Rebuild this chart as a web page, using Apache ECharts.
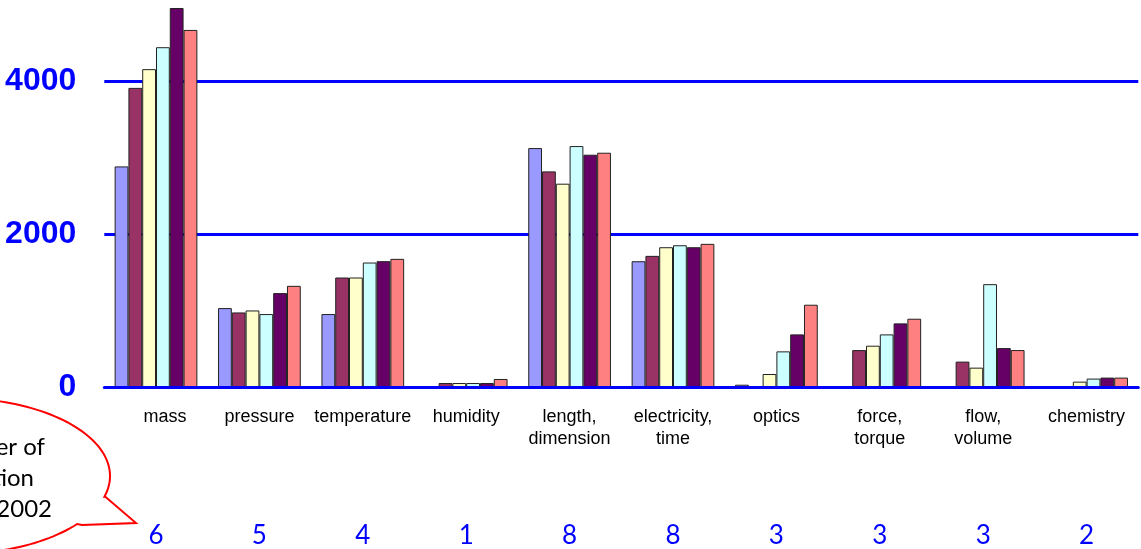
<!DOCTYPE html>
<html>
<head>
<meta charset="utf-8">
<script src="https://cdn.jsdelivr.net/npm/echarts@6/dist/echarts.min.js"></script>
<style>
  html, body { margin: 0; padding: 0; background: #ffffff; }
  #chart { width: 1141px; height: 549px; }
</style>
</head>
<body>
<div id="chart"></div>
<script>
// Measurement fields
const categories = ['mass', 'pressure', 'temperature', 'humidity', 'length,\ndimension',
  'electricity,\ntime', 'optics', 'force,\ntorque', 'flow,\nvolume', 'chemistry'];

// Number of laboratories per field
const labCounts = [6, 5, 4, 1, 8, 8, 3, 3, 3, 2];

// Yearly values per field
const seriesNames = ['1997', '1998', '1999', '2000', '2001', '2002'];
const v1997 = [2885, 1032, 954, 10, 3125, 1645, 30, 0, 0, 0];
const v1998 = [3912, 975, 1432, 52, 2820, 1715, 0, 483, 332, 0];
const v1999 = [4157, 1001, 1432, 52, 2659, 1828, 170, 540, 253, 70];
const v2000 = [4444, 954, 1628, 52, 3151, 1854, 466, 688, 1345, 110];
const v2001 = [4957, 1228, 1646, 52, 3038, 1828, 688, 832, 509, 123];
const v2002 = [4670, 1323, 1676, 105, 3064, 1872, 1076, 893, 483, 123];

const yTicks = [0, 2000, 4000];

const seriesValues = [v1997, v1998, v1999, v2000, v2001, v2002];
const barColors = ['#9999ff', '#993366', '#ffffcc', '#ccffff', '#660066', '#ff8080'];

// Speech bubble outline: an ellipse with a pointer on its lower right side
function bubblePoints() {
  const cx = -45, cy = 476, rx = 155, ry = 78;
  const pts = [[105.6, 497], [136, 523], [82, 525]];
  const t0 = 38 * Math.PI / 180, t1 = 375.5 * Math.PI / 180;
  const steps = 160;
  for (let k = 0; k <= steps; k++) {
    const t = t0 + (t1 - t0) * k / steps;
    pts.push([cx + rx * Math.cos(t), cy + ry * Math.sin(t)]);
  }
  return pts;
}

const bubbleFont = '24px Lato, "Open Sans", sans-serif';

const chart = echarts.init(document.getElementById('chart'), null, { renderer: 'canvas' });

const option = {
  animation: false,
  backgroundColor: '#ffffff',
  grid: {
    left: 104.3,
    right: 2.7,
    top: 4.7,
    bottom: 161.3,
    containLabel: false
  },
  xAxis: [
    {
      type: 'category',
      data: categories,
      z: 10,
      axisLine: { show: true, lineStyle: { color: '#0000ff', width: 3 } },
      axisTick: { show: false },
      axisLabel: {
        interval: 0,
        margin: 19,
        color: '#000000',
        fontFamily: 'Liberation Sans, Arial, sans-serif',
        fontSize: 18,
        lineHeight: 22,
        formatter: function (value) {
          return value === 'mass' ? '{m|' + value + '}' : value;
        },
        rich: {
          m: {
            fontFamily: 'Liberation Sans, Arial, sans-serif',
            fontSize: 18,
            lineHeight: 22,
            color: '#000000',
            padding: [0, 0, 0, 18]
          }
        }
      },
      splitLine: { show: false }
    },
    {
      type: 'category',
      data: categories,
      position: 'bottom',
      axisLine: { show: false },
      axisTick: { show: false },
      axisLabel: {
        interval: 0,
        margin: 136,
        color: '#0000ff',
        fontFamily: 'Lato, "Open Sans", sans-serif',
        fontSize: 26,
        lineHeight: 26,
        formatter: function (value, index) {
          return String(labCounts[index]);
        }
      },
      splitLine: { show: false }
    }
  ],
  yAxis: {
    type: 'value',
    min: 0,
    max: 5000,
    interval: 2000,
    axisLine: { show: false },
    axisTick: { show: false },
    axisLabel: {
      margin: 28,
      showMaxLabel: false,
      color: '#0000ff',
      fontFamily: 'Liberation Sans, Arial, sans-serif',
      fontWeight: 'bold',
      fontSize: 32,
      formatter: function (v) {
        return yTicks.indexOf(v) >= 0 ? String(v) : '';
      }
    },
    splitLine: {
      show: true,
      showMaxLine: false,
      lineStyle: { color: '#0000ff', width: 3 }
    }
  },
  series: seriesNames.map(function (name, i) {
    return {
      name: name,
      type: 'bar',
      xAxisIndex: 0,
      data: seriesValues[i],
      barGap: '0%',
      barCategoryGap: '20%',
      itemStyle: {
        color: barColors[i],
        borderColor: '#222222',
        borderWidth: 1
      }
    };
  }),
  graphic: [
    {
      type: 'polygon',
      z: 20,
      shape: { points: bubblePoints() },
      style: { fill: '#ffffff', stroke: '#ff0000', lineWidth: 2 }
    },
    {
      type: 'text',
      z: 21,
      x: 45,
      y: 459,
      style: {
        text: 'Number of',
        fill: '#000000',
        font: bubbleFont,
        textAlign: 'right',
        textVerticalAlign: 'bottom'
      }
    },
    {
      type: 'text',
      z: 21,
      x: 34,
      y: 490,
      style: {
        text: 'calibration',
        fill: '#000000',
        font: bubbleFont,
        textAlign: 'right',
        textVerticalAlign: 'bottom'
      }
    },
    {
      type: 'text',
      z: 21,
      x: 52,
      y: 521,
      style: {
        text: 'labs in 2002',
        fill: '#000000',
        font: bubbleFont,
        textAlign: 'right',
        textVerticalAlign: 'bottom'
      }
    }
  ]
};

chart.setOption(option);
</script>
</body>
</html>
